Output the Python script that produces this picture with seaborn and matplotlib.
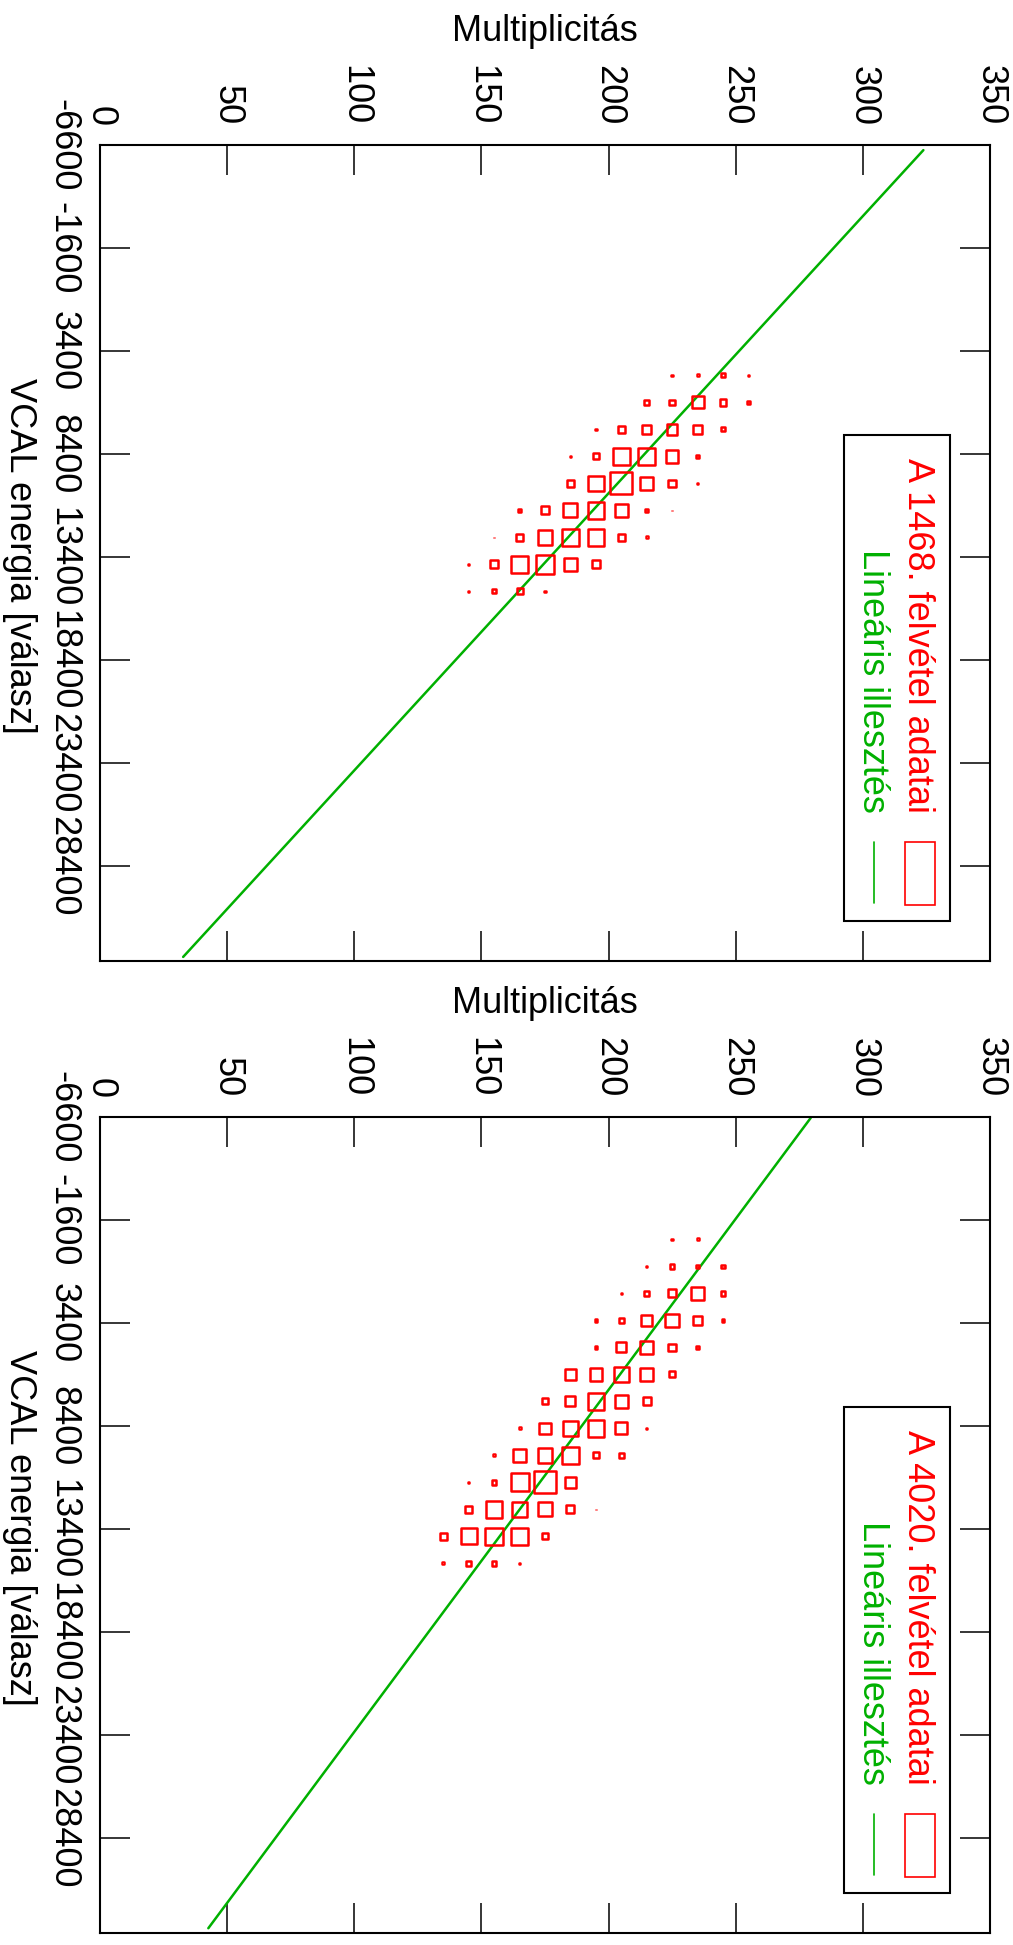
import numpy as np
import pandas as pd
import matplotlib
matplotlib.use("Agg")
import matplotlib.pyplot as plt
from matplotlib.patches import Rectangle
from matplotlib.lines import Line2D
import seaborn as sns

# ---------------- data ----------------
mult_ticks = [0, 50, 100, 150, 200, 250, 300, 350]
vcal_ticks = [-6600, -1600, 3400, 8400, 13400, 18400, 23400, 28400]
mult_lim = (0, 350)
vcal_lim = (-6600, 33000)

# Panel 1: "A 1468. felvétel adatai"
p1_vcal_rows = [4585, 5895, 7205, 8515, 9825, 11135, 12445, 13755, 15065]
p1_mult_rows = [
    [225, 235, 245, 255],
    [215, 225, 235, 245, 255],
    [195, 205, 215, 225, 235, 245],
    [185, 195, 205, 215, 225, 235],
    [185, 195, 205, 215, 225, 235],
    [165, 175, 185, 195, 205, 215, 225],
    [155, 165, 175, 185, 195, 205, 215],
    [145, 155, 165, 175, 185, 195],
    [145, 155, 165, 175],
]
p1_count_rows = [
    [5, 6, 9, 4],
    [10, 11, 21, 13, 7],
    [5, 13, 17, 19, 17, 9],
    [4, 12, 28, 28, 22, 8],
    [14, 26, 36, 22, 14, 4],
    [7, 15, 24, 28, 23, 7, 4],
    [4, 14, 25, 28, 28, 13, 6],
    [5, 15, 28, 31, 22, 15],
    [4, 9, 12, 5],
]
p1_fit = (37200.0, -134.5)          # VCAL = a + b * Multiplicitás
p1_fit_range = (32.7, 323.8)
p1_label = "A 1468. felvétel adatai"

# Panel 2: "A 4020. felvétel adatai"
p2_vcal_rows = [-655, 655, 1965, 3275, 4585, 5895, 7205, 8515, 9825,
                11135, 12445, 13755, 15065]
p2_mult_rows = [
    [225, 235],
    [215, 225, 235, 245],
    [205, 215, 225, 235, 245],
    [195, 205, 215, 225, 235, 245],
    [195, 205, 215, 225, 235],
    [185, 195, 205, 215, 225],
    [175, 185, 195, 205, 215],
    [165, 175, 185, 195, 205, 215],
    [155, 165, 175, 185, 195, 205],
    [145, 155, 165, 175, 185],
    [145, 155, 165, 175, 185, 195],
    [135, 145, 155, 165, 175],
    [135, 145, 155, 165],
]
p2_count_rows = [
    [5, 6],
    [5, 10, 7, 8],
    [5, 10, 15, 22, 10],
    [7, 10, 19, 23, 17, 7],
    [7, 18, 22, 14, 7],
    [20, 22, 25, 23, 12],
    [12, 18, 28, 22, 15],
    [6, 20, 26, 28, 21, 4],
    [6, 22, 25, 28, 12, 11],
    [5, 10, 30, 36, 19],
    [14, 28, 25, 24, 15, 4],
    [14, 27, 29, 29, 12],
    [6, 10, 10, 5],
]
p2_fit = (39840.0, -166.0)
p2_fit_range = (42.6, 279.5)
p2_label = "A 4020. felvétel adatai"

fit_label = "Lineáris illesztés"
x_title = "Multiplicitás"
y_title = "VCAL energia [válasz]"

RED = "#ff0000"
GREEN = "#00b000"
FS = 26
MARKER_LW = 1.8

# ---------------- style ----------------
sns.set_theme(style="ticks")
plt.rcParams["font.family"] = ["Liberation Sans", "DejaVu Sans"]
plt.rcParams["axes.unicode_minus"] = False
plt.rcParams["axes.edgecolor"] = "black"
plt.rcParams["xtick.color"] = "black"
plt.rcParams["ytick.color"] = "black"

fig = plt.figure(figsize=(10.13, 19.45), dpi=100)
ax1 = fig.add_axes([0.09872, 0.50591, 0.87858, 0.41954])
ax2 = fig.add_axes([0.09872, 0.00617, 0.87858, 0.41954])


def draw_panel(ax, vcal_rows, mult_rows, count_rows, fit, fit_range, label):
    df = pd.DataFrame({
        "Multiplicitás": [m for ms in mult_rows for m in ms],
        "VCAL": [v for v, ms in zip(vcal_rows, mult_rows) for _ in ms],
        "darab": [c for cs in count_rows for c in cs],
    })
    uniq = sorted(df["darab"].unique())
    lw_px = MARKER_LW / 0.72
    sizes = {c: (max(c * 2.0 / 3.0 - lw_px + 0.5, 0.6) * 0.72) ** 2
             for c in uniq}
    sns.scatterplot(data=df, x="Multiplicitás", y="VCAL", size="darab",
                    sizes=sizes, marker="s", legend=False, ax=ax,
                    color=RED, zorder=3)
    pts = ax.collections[-1]
    pts.set_facecolor("none")
    pts.set_edgecolor(RED)
    pts.set_linewidth(MARKER_LW)

    m = np.linspace(fit_range[0], fit_range[1], 200)
    sns.lineplot(x=m, y=fit[0] + fit[1] * m, ax=ax, color=GREEN,
                 linewidth=1.8, zorder=2)

    ax.set_xlim(*mult_lim)
    ax.set_ylim(vcal_lim[1], vcal_lim[0])
    ax.set_xticks(mult_ticks)
    ax.set_yticks(vcal_ticks)
    ax.set_xlabel("")
    ax.set_ylabel("")
    ax.tick_params(axis="both", which="major", direction="in", length=21.6,
                   width=1.1, top=True, bottom=True, left=True, right=True,
                   labeltop=True, labelbottom=False, labelleft=True,
                   labelright=False, labelsize=FS, pad=14, colors="black")
    ax.tick_params(axis="x", labelrotation=-90)
    ax.tick_params(axis="y", labelrotation=-90)
    for t in ax.get_yticklabels():
        t.set_verticalalignment("center")
    for s in ax.spines.values():
        s.set_visible(True)
        s.set_linewidth(1.5)
        s.set_color("black")

    ax.text(0.5, 1 + 104 / 816, x_title, transform=ax.transAxes,
            ha="center", va="baseline", fontsize=FS, color="black")
    ax.text(-0.110, 0.496, y_title, transform=ax.transAxes, rotation=-90,
            ha="left", va="center", fontsize=FS, color="black")

    # key (legend) drawn rotated like the rest of the figure
    ax.add_patch(Rectangle((0.836, 0.049), 0.9545 - 0.836, 0.6446 - 0.049,
                           transform=ax.transAxes, facecolor="white",
                           edgecolor="black", linewidth=1.5, zorder=4))
    ax.text(0.9185, 0.1814, label, transform=ax.transAxes, rotation=-90,
            ha="center", va="bottom", fontsize=FS, color=RED, zorder=5)
    ax.text(0.8685, 0.1814, fit_label, transform=ax.transAxes, rotation=-90,
            ha="center", va="bottom", fontsize=FS, color=GREEN, zorder=5)
    ax.add_patch(Rectangle((0.9045, 0.0686), 0.938 - 0.9045, 0.1458 - 0.0686,
                           transform=ax.transAxes, facecolor="none",
                           edgecolor=RED, linewidth=1.2, zorder=5))
    ax.add_line(Line2D([0.8697, 0.8697], [0.0711, 0.1458],
                       transform=ax.transAxes, color=GREEN, linewidth=1.2,
                       zorder=5))


draw_panel(ax1, p1_vcal_rows, p1_mult_rows, p1_count_rows, p1_fit,
           p1_fit_range, p1_label)
draw_panel(ax2, p2_vcal_rows, p2_mult_rows, p2_count_rows, p2_fit,
           p2_fit_range, p2_label)

fig.savefig("out.png", dpi=100)
